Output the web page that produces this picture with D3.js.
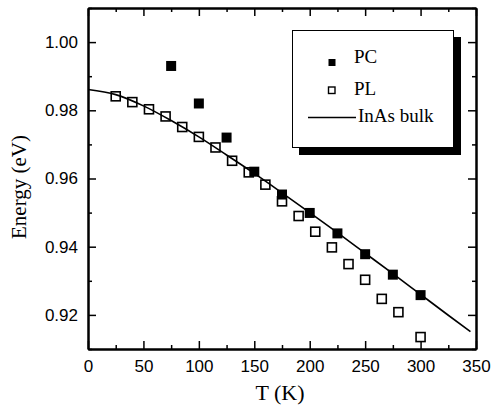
<!DOCTYPE html>
<html>
<head>
<meta charset="utf-8">
<script src="https://cdn.jsdelivr.net/npm/d3@7"></script>
<style>
	body { margin: 0; background: #fff; }
	svg { display: block; }
	.tick text { font-family: "Liberation Sans", Arial, sans-serif; font-size: 17px; fill: #000; }
	.title { font-family: "Liberation Serif", "Times New Roman", serif; fill: #000; }
</style>
</head>
<body>
<div id="chart"></div>
<script>
// values
var pcT = [75, 100, 125, 150, 175, 200, 225, 250, 275, 300];
var pcE = [0.993, 0.982, 0.972, 0.962, 0.9553, 0.9499, 0.9439, 0.9378, 0.9318, 0.9258];

var plT = [25, 40, 55, 70, 85, 100, 115, 130, 145, 160, 175, 190, 205, 220, 235, 250, 265, 280, 300];
var plE = [0.9841, 0.9824, 0.9803, 0.9782, 0.9751, 0.9722, 0.9691, 0.9652, 0.9618, 0.9582, 0.9533, 0.9490, 0.9444, 0.9398, 0.9349, 0.9303, 0.9247, 0.9208, 0.9135];

var bulkT = [0, 25, 50, 75, 100, 125, 150, 175, 200, 225, 250, 275, 300, 325, 345];
var bulkE = [0.9861, 0.9846, 0.9813, 0.9770, 0.9722, 0.9669, 0.9615, 0.9558, 0.9500, 0.9441, 0.9381, 0.9321, 0.9260, 0.9199, 0.9151];

var xMajor = [0, 50, 100, 150, 200, 250, 300, 350];
var xMinor = [25, 75, 125, 175, 225, 275, 325];
var yMajor = [0.92, 0.94, 0.96, 0.98, 1.00];
var yMinor = [0.91, 0.93, 0.95, 0.97, 0.99, 1.01];

var legendNames = ["PC", "PL", "InAs bulk"];

var width = 492, height = 407;
var plotLeft = 88, plotRight = 476, plotTop = 8, plotBottom = 349;

var svg = d3.select("#chart").append("svg")
		.attr("width", width).attr("height", height);

var x = d3.scaleLinear().domain([0, 350]).range([plotLeft, plotRight]);
var y = d3.scaleLinear().domain([0.91, 1.01]).range([plotBottom, plotTop]);

var styleAxis = function(g) {
	g.selectAll(".domain").attr("stroke", "#000").attr("stroke-width", 2);
	g.selectAll(".tick line").attr("stroke", "#000").attr("stroke-width", 1.5);
};

// bottom
svg.append("g").attr("transform", "translate(0," + plotBottom + ")")
	.call(d3.axisBottom(x).tickValues(xMajor).tickSizeInner(-8).tickSizeOuter(0).tickPadding(11)
		.tickFormat(d3.format("d")))
	.call(styleAxis);
svg.append("g").attr("transform", "translate(0," + plotBottom + ")")
	.call(d3.axisBottom(x).tickValues(xMinor).tickSizeInner(-4).tickSizeOuter(0).tickFormat(""))
	.call(styleAxis);
// top
svg.append("g").attr("transform", "translate(0," + plotTop + ")")
	.call(d3.axisTop(x).tickValues(xMajor).tickSizeInner(-8).tickSizeOuter(0).tickFormat(""))
	.call(styleAxis);
svg.append("g").attr("transform", "translate(0," + plotTop + ")")
	.call(d3.axisTop(x).tickValues(xMinor).tickSizeInner(-4).tickSizeOuter(0).tickFormat(""))
	.call(styleAxis);
// left
svg.append("g").attr("transform", "translate(" + plotLeft + ",0)")
	.call(d3.axisLeft(y).tickValues(yMajor).tickSizeInner(-8).tickSizeOuter(0).tickPadding(10)
		.tickFormat(d3.format(".2f")))
	.call(styleAxis);
svg.append("g").attr("transform", "translate(" + plotLeft + ",0)")
	.call(d3.axisLeft(y).tickValues(yMinor).tickSizeInner(-4).tickSizeOuter(0).tickFormat(""))
	.call(styleAxis);
// right
svg.append("g").attr("transform", "translate(" + plotRight + ",0)")
	.call(d3.axisRight(y).tickValues(yMajor).tickSizeInner(-8).tickSizeOuter(0).tickFormat(""))
	.call(styleAxis);
svg.append("g").attr("transform", "translate(" + plotRight + ",0)")
	.call(d3.axisRight(y).tickValues(yMinor).tickSizeInner(-4).tickSizeOuter(0).tickFormat(""))
	.call(styleAxis);

// bulk curve
var line = d3.line()
	.x(function(d, i) { return x(bulkT[i]); })
	.y(function(d) { return y(d); })
	.curve(d3.curveMonotoneX);
svg.append("path").datum(bulkE)
	.attr("d", line)
	.attr("fill", "none").attr("stroke", "#000").attr("stroke-width", 1.6);

// PL open squares
var plSize = 9;
svg.append("g").selectAll("rect").data(plE).enter().append("rect")
	.attr("x", function(d, i) { return x(plT[i]) - plSize / 2; })
	.attr("y", function(d) { return y(d) - plSize / 2; })
	.attr("width", plSize).attr("height", plSize)
	.attr("fill", "none").attr("stroke", "#000").attr("stroke-width", 1.6);

// PC filled squares
var pcSize = 10;
svg.append("g").selectAll("rect").data(pcE).enter().append("rect")
	.attr("x", function(d, i) { return x(pcT[i]) - pcSize / 2; })
	.attr("y", function(d) { return y(d) - pcSize / 2; })
	.attr("width", pcSize).attr("height", pcSize)
	.attr("fill", "#000");

// axis titles
svg.append("text").attr("class", "title")
	.attr("x", (plotLeft + plotRight) / 2 - 2).attr("y", 400)
	.attr("text-anchor", "middle").style("font-size", "22px")
	.text("T (K)");
svg.append("text").attr("class", "title")
	.attr("transform", "translate(26,187) rotate(-90)")
	.attr("text-anchor", "middle").style("font-size", "21px")
	.text("Energy (eV)");

// legend
var lg = svg.append("g");
lg.append("rect").attr("x", 299).attr("y", 37).attr("width", 162).attr("height", 118).attr("fill", "#000");
lg.append("rect").attr("x", 292.5).attr("y", 30.5).attr("width", 161).attr("height", 117)
	.attr("fill", "#fff").attr("stroke", "#000").attr("stroke-width", 1);

lg.append("rect").attr("x", 328.5).attr("y", 59).attr("width", 7).attr("height", 7).attr("fill", "#000");
lg.append("rect").attr("x", 328.5).attr("y", 87).attr("width", 6.5).attr("height", 6.5)
	.attr("fill", "none").attr("stroke", "#000").attr("stroke-width", 1.4);
lg.append("line").attr("x1", 308).attr("x2", 356).attr("y1", 117.5).attr("y2", 117.5)
	.attr("stroke", "#000").attr("stroke-width", 1.6);

var legendY = [62.5, 94.5, 122];
var legendX = [354, 354, 358];
lg.selectAll("text.leg").data(legendNames).enter().append("text")
	.attr("class", "title leg")
	.attr("x", function(d, i) { return legendX[i]; })
	.attr("y", function(d, i) { return legendY[i]; })
	.style("font-size", "19px")
	.text(function(d) { return d; });
</script>
</body>
</html>
